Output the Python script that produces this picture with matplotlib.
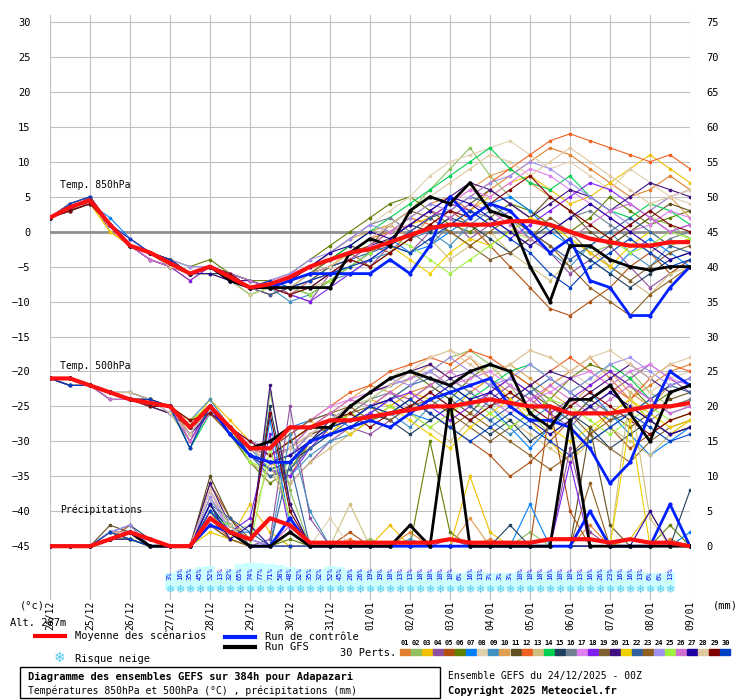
import numpy as np
import matplotlib.pyplot as plt
from matplotlib.patches import Rectangle

# time axis: days since 24/12 00Z, 12h steps
dates = ["24/12", "25/12", "26/12", "27/12", "28/12", "29/12", "30/12", "31/12", "01/01",
         "02/01", "03/01", "04/01", "05/01", "06/01", "07/01", "08/01", "09/01"]

colors = ["#e08030", "#90c060", "#f0c000", "#9050a0", "#b05010", "#608000", "#0080ff", "#e0d0b0",
          "#4090c0", "#e0a050", "#605020", "#f06020", "#d0c080", "#00d050", "#204060", "#708090",
          "#e080f0", "#8020f0", "#806030", "#401080", "#f0d000", "#3060a0", "#906020", "#a090f0",
          "#a0f040", "#d070d0", "#2000a0", "#e0c8a0", "#800000", "#0040c0"]

t850_members = """
2 3 5 1 -2 -3 -5 -6 -5 -7 -8 -8 -9 -7 -5 -3 -1 0 2 4 5 3 6 8 10 12 11 9 7 5 6 8 6
2 4 4 1 -2 -3 -4 -6 -6 -6 -7 -8 -8 -6 -4 -2 0 1 3 6 9 12 8 5 3 1 -1 -3 -2 0 2 1 -1
2 3 4 1 -1 -3 -5 -7 -5 -7 -9 -8 -7 -5 -4 -3 -2 0 1 2 4 3 5 7 8 6 4 5 7 9 11 9 7
2 4 5 0 -2 -3 -4 -6 -5 -6 -8 -7 -9 -10 -6 -4 -5 -2 -3 0 2 -1 1 3 0 -3 -6 -4 -2 -5 -8 -6 -4
2 3 4 1 -2 -4 -5 -6 -5 -7 -8 -9 -8 -7 -5 -4 -2 -3 0 2 3 1 -2 -5 -8 -11 -12 -10 -8 -5 -3 -6 -4
2 4 4 1 -2 -3 -4 -5 -4 -6 -7 -7 -6 -4 -2 0 2 4 5 3 1 0 2 4 3 1 0 2 5 3 1 2 3
2 3 4 2 -1 -3 -4 -6 -5 -6 -8 -8 -9 -8 -6 -5 -3 -1 -3 -2 0 2 4 5 3 0 -2 -4 -6 -3 -1 -3 -5
2 4 5 1 -2 -3 -5 -6 -6 -7 -8 -8 -7 -6 -3 -1 1 3 5 8 10 11 12 13 11 9 10 8 6 9 7 5 4
2 3 4 1 -2 -3 -4 -6 -5 -6 -7 -8 -10 -9 -7 -6 -4 -3 -1 0 -2 1 3 2 -1 -3 -5 -2 0 -3 -5 -2 -1
2 4 4 0 -2 -3 -5 -6 -5 -7 -8 -7 -6 -5 -3 -1 0 1 -1 2 4 6 8 9 7 5 3 1 -1 1 3 5 2
2 3 4 1 -2 -4 -5 -6 -5 -6 -8 -8 -7 -5 -4 -2 -3 -1 1 3 2 4 6 4 2 5 3 0 -2 0 2 4 3
2 4 5 1 -1 -3 -4 -6 -5 -7 -8 -9 -8 -7 -6 -4 -2 0 2 1 3 5 7 9 11 13 14 13 12 11 10 11 9
2 3 4 1 -2 -3 -4 -5 -5 -6 -8 -8 -9 -8 -7 -5 -4 -2 -3 -1 -4 -2 0 -3 -5 -7 -4 -2 -5 -7 -9 -6 -5
2 4 4 1 -2 -3 -5 -6 -5 -7 -9 -8 -7 -6 -4 -2 0 2 4 6 8 10 12 9 7 6 8 5 3 2 4 3 1
2 3 4 1 -2 -3 -4 -6 -6 -6 -7 -8 -8 -9 -7 -5 -3 -1 1 0 2 1 -1 -3 -1 1 -2 -4 -6 -8 -6 -4 -3
2 4 5 1 -2 -3 -5 -6 -5 -7 -8 -8 -7 -5 -3 -1 1 2 0 -2 1 3 2 0 -2 0 2 3 1 -1 -3 -1 0
2 3 4 1 -1 -3 -4 -6 -5 -6 -8 -7 -6 -5 -4 -3 -1 1 3 5 4 6 5 7 9 8 6 4 2 0 1 3 2
2 4 4 1 -2 -4 -5 -7 -5 -7 -8 -8 -9 -10 -8 -6 -4 -2 0 2 4 3 1 -1 1 3 5 7 6 4 2 0 1
2 3 5 1 -2 -3 -4 -6 -5 -6 -8 -8 -8 -6 -5 -3 -2 1 3 2 0 -2 -4 -3 -1 2 0 -3 -5 -7 -5 -3 -2
2 4 4 1 -2 -3 -5 -6 -5 -7 -7 -8 -7 -6 -5 -4 -2 -1 1 3 5 7 6 4 2 4 6 5 3 5 7 6 5
2 3 4 0 -2 -3 -4 -6 -6 -7 -8 -8 -9 -7 -5 -3 -1 -2 -4 -6 -3 -1 -2 0 2 1 -1 -3 -5 -2 0 -2 -1
2 4 5 1 -2 -3 -4 -6 -5 -6 -8 -9 -8 -7 -5 -4 -3 -2 0 2 3 5 4 2 0 -2 -4 -2 0 2 0 -2 -3
2 3 4 1 -2 -3 -5 -6 -5 -7 -8 -8 -7 -6 -4 -3 -5 -3 -1 1 0 -2 0 2 0 -2 -5 -8 -10 -12 -9 -7 -5
2 4 4 1 -1 -3 -4 -5 -5 -6 -8 -7 -6 -4 -3 -1 1 0 2 4 3 5 7 8 10 9 7 5 3 1 3 5 6
2 3 4 1 -2 -3 -4 -6 -5 -7 -8 -8 -8 -9 -7 -5 -3 -1 -2 -4 -6 -4 -2 0 -1 -3 -1 1 -1 -3 -2 0 -1
2 4 5 1 -2 -4 -5 -6 -5 -6 -7 -8 -9 -7 -6 -4 -2 0 1 3 2 4 3 1 -1 -3 -1 1 3 4 2 0 1
2 3 4 1 -2 -3 -4 -6 -6 -7 -8 -8 -7 -5 -3 -2 0 -1 1 3 5 4 2 0 -2 0 2 4 2 0 -2 -4 -3
2 4 4 1 -2 -3 -5 -6 -5 -7 -9 -8 -8 -6 -5 -3 -1 1 3 5 7 9 11 10 8 10 12 10 8 6 4 5 6
2 3 4 1 -2 -3 -4 -6 -5 -6 -8 -8 -9 -8 -6 -4 -5 -3 -1 1 3 2 4 6 8 5 3 1 -1 1 3 1 0
2 4 5 1 -1 -3 -4 -6 -5 -7 -8 -7 -8 -7 -6 -5 -4 -2 -3 -1 1 3 1 -1 -3 -6 -8 -5 -3 -1 -3 -5 -4
"""

t500_members = """
-21 -21 -22 -23 -24 -24 -25 -27 -26 -28 -31 -33 -35 -30 -28 -26 -27 -25 -23 -22 -20 -18 -21 -23 -25 -22 -20 -18 -21 -24 -22 -20 -19
-21 -21 -22 -23 -24 -25 -26 -30 -25 -29 -33 -35 -33 -31 -28 -27 -25 -24 -22 -20 -18 -17 -19 -22 -26 -29 -27 -24 -22 -20 -23 -25 -24
-21 -22 -22 -23 -24 -24 -25 -28 -24 -27 -30 -31 -29 -27 -29 -26 -24 -25 -23 -24 -26 -23 -21 -24 -27 -30 -33 -29 -26 -24 -27 -29 -27
-21 -21 -22 -23 -23 -24 -25 -29 -26 -28 -32 -34 -36 -33 -30 -28 -29 -27 -25 -23 -25 -27 -24 -22 -24 -26 -28 -25 -23 -21 -19 -21 -23
-21 -21 -22 -23 -24 -25 -25 -31 -25 -28 -31 -32 -30 -28 -26 -27 -25 -23 -24 -26 -28 -30 -32 -35 -33 -30 -27 -25 -28 -31 -29 -27 -26
-21 -22 -22 -23 -24 -24 -25 -27 -25 -29 -33 -36 -34 -30 -27 -25 -23 -21 -20 -22 -24 -21 -19 -20 -22 -24 -21 -19 -20 -22 -25 -23 -22
-21 -21 -22 -23 -24 -24 -26 -28 -26 -28 -30 -31 -28 -27 -26 -28 -26 -24 -26 -27 -25 -23 -25 -28 -31 -28 -25 -23 -26 -29 -32 -30 -28
-21 -21 -22 -24 -24 -25 -25 -30 -25 -28 -32 -33 -31 -29 -27 -25 -23 -21 -19 -18 -17 -18 -20 -19 -17 -18 -20 -22 -19 -21 -23 -21 -20
-21 -22 -22 -23 -24 -24 -25 -27 -24 -28 -31 -34 -35 -32 -30 -29 -27 -26 -28 -25 -23 -25 -27 -29 -27 -25 -27 -30 -28 -26 -24 -26 -25
-21 -21 -22 -23 -23 -24 -25 -29 -25 -28 -31 -32 -30 -28 -26 -24 -22 -23 -21 -19 -21 -23 -21 -19 -21 -23 -25 -22 -20 -23 -25 -22 -21
-21 -21 -22 -23 -24 -25 -26 -28 -26 -29 -32 -33 -32 -29 -28 -27 -25 -26 -24 -22 -24 -26 -23 -21 -23 -25 -27 -24 -26 -28 -26 -24 -23
-21 -22 -22 -23 -24 -24 -25 -30 -25 -28 -31 -31 -29 -27 -25 -23 -22 -20 -19 -18 -19 -17 -18 -20 -22 -20 -18 -20 -22 -24 -21 -19 -20
-21 -21 -22 -23 -24 -24 -25 -27 -25 -28 -33 -35 -36 -33 -31 -29 -27 -28 -26 -28 -30 -27 -25 -27 -29 -31 -33 -30 -28 -30 -32 -29 -28
-21 -21 -22 -24 -24 -25 -25 -31 -26 -28 -31 -32 -30 -28 -27 -25 -24 -22 -21 -20 -22 -24 -22 -20 -19 -21 -23 -21 -19 -21 -24 -22 -21
-21 -22 -22 -23 -24 -24 -25 -28 -25 -29 -32 -34 -33 -31 -29 -28 -26 -27 -29 -27 -25 -27 -29 -27 -30 -28 -26 -28 -31 -29 -27 -29 -28
-21 -21 -22 -23 -23 -24 -26 -29 -25 -28 -31 -33 -31 -28 -27 -26 -24 -23 -25 -23 -21 -23 -25 -24 -22 -25 -27 -25 -23 -25 -27 -25 -24
-21 -21 -22 -23 -24 -25 -25 -27 -26 -28 -30 -31 -29 -27 -25 -24 -23 -22 -21 -20 -22 -21 -20 -22 -24 -23 -21 -20 -22 -20 -19 -21 -22
-21 -22 -22 -23 -24 -24 -25 -30 -25 -28 -32 -34 -35 -31 -28 -27 -26 -24 -23 -25 -27 -25 -23 -21 -23 -26 -24 -22 -20 -22 -24 -22 -21
-21 -21 -22 -23 -24 -24 -25 -28 -25 -29 -31 -32 -31 -29 -28 -26 -25 -27 -25 -24 -26 -28 -30 -28 -26 -24 -26 -29 -31 -33 -30 -28 -27
-21 -21 -22 -24 -24 -25 -26 -29 -26 -28 -32 -33 -32 -30 -27 -25 -23 -22 -20 -19 -21 -20 -22 -24 -22 -20 -21 -23 -21 -19 -21 -23 -22
-21 -22 -22 -23 -24 -24 -25 -27 -25 -28 -31 -32 -30 -28 -27 -29 -27 -25 -27 -29 -31 -28 -26 -24 -26 -28 -30 -28 -26 -24 -26 -28 -27
-21 -21 -22 -23 -23 -24 -25 -31 -25 -28 -32 -35 -34 -31 -29 -27 -25 -24 -22 -21 -23 -25 -27 -25 -23 -21 -23 -25 -27 -26 -24 -22 -23
-21 -21 -22 -23 -24 -25 -25 -28 -26 -29 -31 -31 -29 -27 -26 -25 -27 -26 -24 -26 -28 -26 -28 -30 -32 -34 -32 -29 -27 -25 -27 -29 -28
-21 -22 -22 -23 -24 -24 -26 -29 -25 -28 -31 -33 -32 -29 -27 -25 -23 -21 -22 -20 -18 -20 -22 -21 -19 -21 -23 -21 -19 -18 -20 -22 -21
-21 -21 -22 -23 -24 -24 -25 -27 -25 -28 -33 -34 -33 -30 -28 -26 -27 -25 -26 -28 -26 -24 -26 -28 -26 -24 -25 -27 -29 -27 -25 -27 -26
-21 -21 -22 -24 -24 -25 -25 -30 -26 -28 -31 -32 -31 -28 -26 -24 -25 -23 -24 -22 -20 -22 -24 -26 -24 -22 -24 -26 -24 -22 -24 -26 -25
-21 -22 -22 -23 -24 -24 -25 -28 -25 -29 -32 -33 -32 -30 -28 -27 -25 -24 -26 -24 -22 -24 -23 -25 -27 -29 -27 -25 -23 -25 -27 -29 -28
-21 -21 -22 -23 -23 -24 -26 -29 -25 -28 -31 -33 -31 -29 -27 -25 -24 -22 -20 -18 -17 -19 -21 -19 -17 -18 -20 -18 -17 -19 -21 -19 -18
-21 -21 -22 -23 -24 -25 -25 -27 -26 -28 -30 -32 -30 -28 -27 -26 -28 -26 -25 -23 -25 -27 -25 -23 -25 -27 -25 -23 -25 -27 -29 -27 -26
-21 -22 -22 -23 -24 -24 -25 -31 -25 -28 -32 -34 -33 -30 -28 -27 -25 -26 -24 -26 -28 -30 -28 -26 -28 -30 -32 -30 -28 -26 -28 -30 -29
"""

precip_members = """
0 0 0 1 2 1 0 0 4 2 1 0 3 0 0 1 0 0 2 0 0 0 1 0 0 0 0 3 0 0 0 1 0
0 0 0 2 1 0 0 0 7 3 0 22 8 0 0 0 1 0 0 0 0 0 0 0 2 0 0 0 0 0 0 0 0
0 0 0 1 1 0 0 0 3 1 6 2 0 0 0 0 0 3 0 0 0 10 2 0 0 0 0 0 0 1 5 0 0
0 0 0 2 2 1 0 0 5 2 0 1 20 4 0 0 0 0 0 0 1 0 0 0 0 0 14 2 0 0 0 0 0
0 0 0 1 3 0 0 0 9 4 1 0 0 0 0 2 0 0 0 0 0 0 0 0 0 20 5 0 0 0 0 0 0
0 0 0 2 1 0 0 0 4 3 0 0 1 0 0 0 0 0 0 15 2 0 0 0 0 0 0 0 0 0 0 3 0
0 0 0 1 2 0 0 0 6 2 2 18 3 0 0 0 0 0 0 0 0 0 0 0 6 0 0 0 0 0 0 0 2
0 0 0 1 1 1 0 0 2 1 0 0 0 0 4 0 0 0 0 0 0 0 0 0 0 0 0 0 0 0 0 0 0
0 0 0 2 2 0 0 0 8 3 1 0 16 5 0 0 0 0 1 0 0 0 0 0 0 0 0 0 0 0 0 0 0
0 0 0 1 1 0 0 0 3 2 0 0 0 0 0 0 0 0 0 0 0 4 0 0 0 0 0 0 0 0 0 0 0
0 0 0 3 2 1 0 0 10 4 0 0 2 0 0 0 0 0 0 0 0 0 0 0 0 0 0 17 3 0 0 0 0
0 0 0 1 2 0 0 0 4 1 0 0 0 0 0 0 0 0 0 0 0 0 0 0 0 0 0 0 0 0 0 0 0
0 0 0 2 1 0 0 0 7 2 3 12 4 0 0 6 0 0 0 0 0 0 0 0 0 0 0 0 0 22 4 0 0
0 0 0 1 1 0 0 0 5 3 0 0 0 0 0 0 0 0 0 0 0 0 0 0 0 0 0 0 0 0 0 0 0
0 0 0 2 3 1 0 0 6 2 1 20 6 0 0 0 0 0 0 0 0 0 0 3 0 0 0 0 0 0 0 0 8
0 0 0 1 1 0 0 0 3 1 0 0 0 0 0 0 0 0 0 0 0 0 0 0 0 0 0 0 0 0 0 0 0
0 0 0 2 2 0 0 0 8 2 1 0 3 0 0 0 0 0 0 0 0 0 0 0 0 0 0 0 0 0 0 0 0
0 0 0 1 2 1 0 0 4 2 4 16 2 0 0 0 0 0 0 0 0 0 0 0 0 0 12 0 0 0 0 0 0
0 0 0 2 1 0 0 0 5 1 0 0 0 0 0 0 0 0 0 0 0 0 0 0 0 0 0 0 0 0 0 0 0
0 0 0 1 2 0 0 0 9 3 0 23 6 0 0 0 0 0 0 0 0 0 0 0 0 0 0 0 0 0 0 0 0
0 0 0 1 1 0 0 0 2 1 0 0 0 0 0 0 0 0 0 0 0 0 0 0 0 0 0 0 0 18 0 0 0
0 0 0 2 2 1 0 0 6 4 2 0 12 0 0 0 0 0 0 0 0 0 0 0 0 0 0 0 0 0 0 0 0
0 0 0 1 1 0 0 0 3 1 0 0 0 0 0 0 0 0 0 0 0 0 0 0 0 0 0 9 0 0 0 0 0
0 0 0 2 3 0 0 0 7 2 1 0 0 0 0 0 0 0 0 0 0 0 0 0 0 0 0 0 0 0 0 0 0
0 0 0 1 1 0 0 0 4 3 0 14 4 0 0 0 0 0 0 0 0 0 0 0 0 0 0 0 0 0 0 0 0
0 0 0 2 2 1 0 0 5 2 0 0 0 0 0 0 0 0 0 0 0 0 0 0 0 0 0 0 0 0 0 0 0
0 0 0 1 1 0 0 0 6 1 3 0 2 0 0 0 0 0 0 0 0 0 0 0 0 0 0 0 0 0 5 0 0
0 0 0 2 2 0 0 0 8 3 0 0 0 0 0 0 0 0 0 0 0 0 0 0 0 0 0 0 0 0 0 0 0
0 0 0 1 2 1 0 0 3 2 1 19 5 0 0 0 0 0 0 0 0 0 0 0 0 0 0 0 0 0 0 0 0
0 0 0 2 1 0 0 0 5 2 0 0 0 0 0 0 0 0 0 0 0 0 0 0 0 0 0 0 0 0 0 0 0
"""

t850_mean = [2, 3.5, 4.5, 1, -2, -3, -4.5, -6, -5, -6.5, -8, -7.5, -6.5, -5, -4, -3, -2.5,
             -1.5, -0.5, 0.5, 1, 1, 1, 1.5, 1.5, 1, 0, -1, -1.5, -2, -2, -1.5, -1.5]
t850_ctrl = [2, 3.5, 4.5, 1, -2, -3, -4.5, -6, -5, -7, -8, -8, -7, -6, -6, -6, -6,
             -4, -6, -2, 5, 2, 4, 3, 0, -3, -1, -7, -8, -12, -12, -8, -5]
t850_gfs = [2, 3.5, 4.5, 1, -2, -3, -4.5, -6, -5, -7, -8, -8, -8, -8, -8, -3, -1,
            -2, 3, 5, 4, 7, 3, 2, -5, -10, -2, -2, -4, -5, -5.5, -5, -5]

t500_mean = [-21, -21, -22, -23, -24, -24.5, -25, -28, -25, -28, -31, -31, -28, -28, -27, -27,
             -26.5, -26, -25.5, -25, -25, -24.5, -24, -24.5, -25, -25, -26, -26, -26, -25.5, -25, -25, -24.5]
t500_ctrl = [-21, -21, -22, -23, -24, -24.5, -25, -28, -25, -29, -32, -33, -33, -30, -29, -28,
             -27, -28, -26, -24, -23, -22, -21, -25, -27, -27, -28, -31, -36, -33, -26, -20, -22]
t500_gfs = [-21, -21, -22, -23, -24, -24.5, -25, -28, -25, -28, -31, -30, -28, -28, -28, -25,
            -23, -21, -20, -21, -22, -20, -19, -20, -26, -28, -24, -24, -22, -26, -30, -23, -22]

precip_mean = [0, 0, 0, 1, 2, 1, 0, 0, 4, 2, 1, 4, 3, 0.5, 0.5, 0.5, 0.5, 0.5, 0.5, 0.5, 1,
               0.5, 0.5, 0.5, 0.5, 1, 1, 1, 0.5, 1, 0.5, 0.5, 0]
precip_ctrl = [0, 0, 0, 1, 2, 0, 0, 0, 3, 2, 0, 0, 4, 0, 0, 0, 0, 0, 0, 0, 0, 0, 0, 0, 0, 0, 0,
               5, 0, 0, 0, 6, 0]
precip_gfs = [0, 0, 0, 1, 2, 0, 0, 0, 4, 2, 0, 0, 2, 0, 0, 0, 0, 0, 3, 0, 21, 0, 0, 0, 0, 0,
              18, 0, 0, 0, 0, 0, 0]

snow_pct = [3, 16, 35, 45, 52, 13, 32, 65, 74, 77, 71, 58, 48, 32, 35, 32, 52, 45, 26, 26, 19,
            19, 10, 13, 13, 10, 10, 10, 10, 6, 16, 13, 3, 3, 3, 10, 10, 10, 16, 10, 10, 13, 16,
            26, 23, 16, 16, 13, 6, 6, 13]


def rows(s):
    return [np.array(l.split(), dtype=float) for l in s.strip().splitlines()]


def tt(y):
    return np.arange(len(y)) * 0.5


W, H = 740, 700
fig = plt.figure(figsize=(W / 100, H / 100), dpi=100)
plt.rcParams['font.family'] = 'DejaVu Sans Mono'
ax = fig.add_axes([50 / W, 1 - 600 / H, 640 / W, 585 / H])
ax.set_xlim(0, 16)
ax.set_ylim(-52.7, 31)

for d in range(17):
    ax.axvline(d, color='#c0c0c0', lw=0.8, zorder=0)
for v in range(-45, 31, 5):
    ax.axhline(v, color='#c0c0c0', lw=0.8, zorder=0)
ax.axhline(0, color='#909090', lw=2, zorder=0)
for sp in ax.spines.values():
    sp.set_visible(False)

ax.set_yticks(range(-45, 31, 5))
ax.tick_params(axis='y', length=0, labelsize=7.5, pad=14)
ax.set_xticks([])
ax2 = ax.twinx()
ax2.set_ylim(-52.7 + 45, 31 + 45)
ax2.set_yticks(range(0, 76, 5))
ax2.tick_params(axis='y', length=0, labelsize=7.5, pad=12)
for sp in ax2.spines.values():
    sp.set_visible(False)

mk = dict(marker='o', ms=1.6, lw=0.8, zorder=2)
for i, y in enumerate(rows(t850_members)):
    ax.plot(tt(y), y, color=colors[i], **mk)
for i, y in enumerate(rows(t500_members)):
    ax.plot(tt(y), y, color=colors[i], **mk)
for i, y in enumerate(rows(precip_members)):
    ax.plot(tt(y), y - 45, color=colors[i], **mk)

for y0, m, c, g in [(0, t850_mean, t850_ctrl, t850_gfs), (0, t500_mean, t500_ctrl, t500_gfs),
                    (-45, precip_mean, precip_ctrl, precip_gfs)]:
    ax.plot(tt(c), np.array(c) + y0, color='#0020ff', lw=2, marker='o', ms=2, zorder=3)
    ax.plot(tt(g), np.array(g) + y0, color='black', lw=2, marker='o', ms=2, zorder=3)
    ax.plot(tt(m), np.array(m) + y0, color='#ff1010', lw=3, zorder=4)

ax.text(0.25, 6.3, "Temp. 850hPa", fontsize=7, zorder=5)
ax.text(0.25, -19.7, "Temp. 500hPa", fontsize=7, zorder=5)
ax.text(0.25, -40.3, "Précipitations", fontsize=7, zorder=5)

# snow risk row
ts = 3 + 0.25 * np.arange(len(snow_pct))
for x, p in zip(ts, snow_pct):
    ax.add_patch(Rectangle((x - 0.125, -51.3), 0.25, 2.4 + p * 0.02, color='#ccffff', lw=0, zorder=1))
    ax.text(x, -51.3, "❄", fontsize=8, color='#50c8f0', ha='center', va='center',
            family='DejaVu Sans', zorder=3)
    ax.text(x, -49.9, f"{p}%", fontsize=5, color='#0000ff', rotation=90,
            ha='center', va='bottom', zorder=3)


def ft(x, y, s, **kw):
    fig.text(x / W, 1 - y / H, s, **kw)


for i, d in enumerate(dates):
    ft(50 + 40 * i, 601, d, rotation=90, ha='center', va='top', fontsize=7)
ft(20, 606, "(°c)", fontsize=7.5, va='center')
ft(713, 606, "(mm)", fontsize=7.5, va='center')
ft(10, 623, "Alt. 287m", fontsize=7.5, va='center')

fig.add_artist(plt.Line2D([35 / W, 65 / W], [1 - 636 / H] * 2, color='#ff0000', lw=3))
ft(75, 636, "Moyenne des scénarios", fontsize=7.5, va='center')
fig.add_artist(plt.Line2D([225 / W, 255 / W], [1 - 637 / H] * 2, color='#0020ff', lw=3))
ft(265, 637, "Run de contrôle", fontsize=7.5, va='center')
fig.add_artist(plt.Line2D([225 / W, 255 / W], [1 - 647 / H] * 2, color='black', lw=3))
ft(265, 647, "Run GFS", fontsize=7.5, va='center')
ft(60, 658, "❄", fontsize=10, color='#50c8f0', ha='center', va='center', family='DejaVu Sans')
ft(75, 659, "Risque neige", fontsize=7.5, va='center')
ft(340, 653, "30 Perts.", fontsize=7.5, va='center')
for i, c in enumerate(colors):
    x = 400 + i * 11.05
    ft(x + 5, 643, f"{i + 1:02d}", fontsize=5, ha='center', va='center', weight='bold')
    fig.add_artist(Rectangle((x / W, 1 - 655 / H), 10 / W, 6 / H, color=c))

fig.add_artist(Rectangle((20 / W, 1 - 698 / H), 420 / W, 31 / H, fill=False, ec='black', lw=1))
ft(28, 677, "Diagramme des ensembles GEFS sur 384h pour Adapazari", fontsize=7.5, weight='bold', va='center')
ft(28, 691, "Températures 850hPa et 500hPa (°C) , précipitations (mm)", fontsize=7, va='center')
ft(448, 676, "Ensemble GEFS du 24/12/2025 - 00Z", fontsize=7, va='center')
ft(448, 691, "Copyright 2025 Meteociel.fr", fontsize=7.5, weight='bold', va='center')

fig.savefig("out.png", dpi=100, facecolor='white')
